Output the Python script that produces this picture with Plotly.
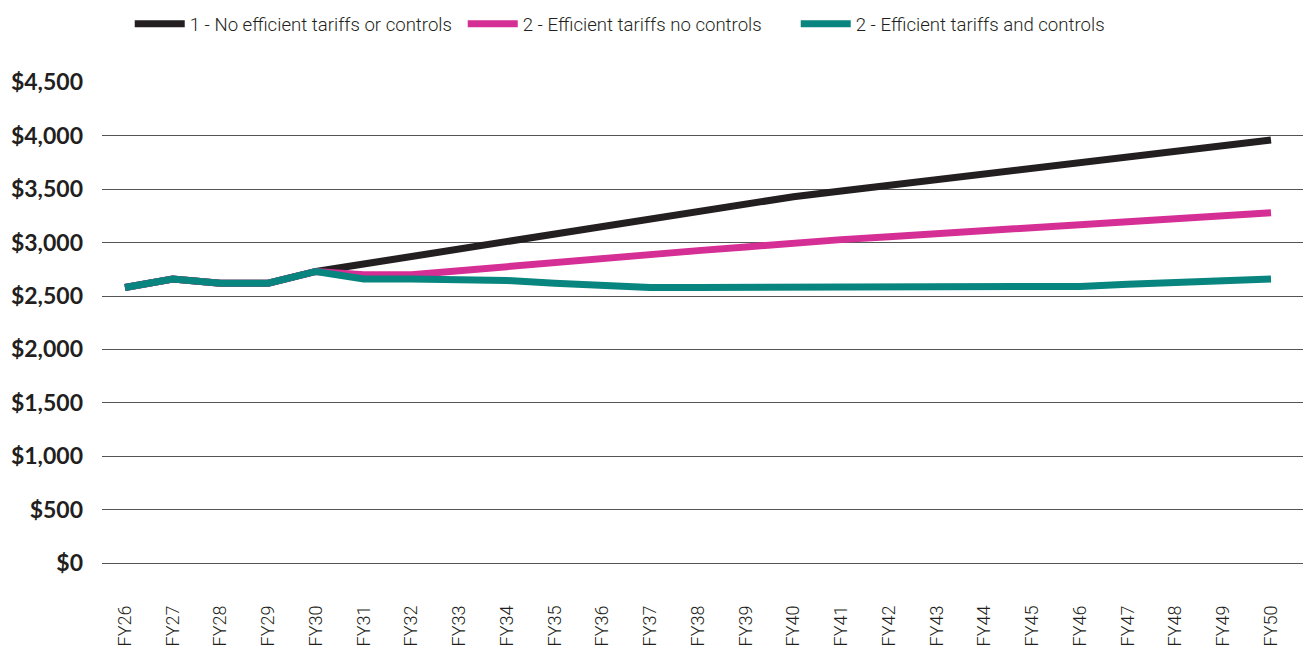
import plotly.graph_objects as go

years = [f"FY{y}" for y in range(26, 51)]

no_tariffs = [2580, 2660, 2620, 2620, 2730, 2800, 2870, 2940, 3010, 3080,
              3150, 3220, 3290, 3360, 3430, 3483, 3536, 3589, 3642, 3695,
              3748, 3801, 3854, 3907, 3960]
tariffs_no_controls = [2580, 2660, 2620, 2620, 2730, 2700, 2700, 2740, 2775, 2810,
                       2850, 2890, 2925, 2960, 3000, 3028, 3056, 3084, 3112, 3140,
                       3168, 3196, 3224, 3252, 3280]
tariffs_controls = [2580, 2660, 2620, 2620, 2730, 2660, 2660, 2660, 2645, 2620,
                    2600, 2580, 2580, 2580, 2580, 2580, 2580, 2580, 2580, 2580,
                    2590, 2610, 2630, 2645, 2660]

names = ["1 - No efficient tariffs or controls",
         "2 - Efficient tariffs no controls",
         "2 - Efficient tariffs and controls"]
colors = ["#231f20", "#d52f95", "#08857f"]

ytickvals = list(range(0, 4501, 500))
yticktext = [f"${v:,}" for v in ytickvals]

fig = go.Figure()
for name, vals, col in zip(names, [no_tariffs, tariffs_no_controls, tariffs_controls], colors):
    fig.add_trace(go.Scatter(x=years, y=vals, name=name, mode="lines",
                             line=dict(color=col, width=7)))

fig.update_layout(
    width=1303, height=646,
    margin=dict(l=102, r=0, t=82, b=83),
    plot_bgcolor="white", paper_bgcolor="white",
    font=dict(family="Roboto", color="#231f20"),
    showlegend=True,
    legend=dict(orientation="h", x=0.439, xanchor="center", y=1.12, yanchor="middle",
                font=dict(family="Roboto", size=18.6, color="#231f20", weight=300),
                itemwidth=50, tracegroupgap=0, entrywidth=268, entrywidthmode="pixels"),
)
fig.update_xaxes(type="category", categoryorder="array", categoryarray=years,
                 range=[-0.48, 24.67], showgrid=False, zeroline=False, showline=False,
                 tickangle=-90, ticks="", ticklabelstandoff=38,
                 tickfont=dict(family="Roboto", size=18, color="#231f20", weight=300))
fig.update_yaxes(range=[0, 4504], tickvals=ytickvals, ticktext=yticktext,
                 showgrid=True, gridcolor="#555555", gridwidth=1.2,
                 zeroline=True, zerolinecolor="#555555", zerolinewidth=1.2,
                 showline=False, ticks="", ticklabelstandoff=18,
                 tickfont=dict(family="Lato", size=23, color="#231f20", weight="bold"))

fig.write_html("out.html")
